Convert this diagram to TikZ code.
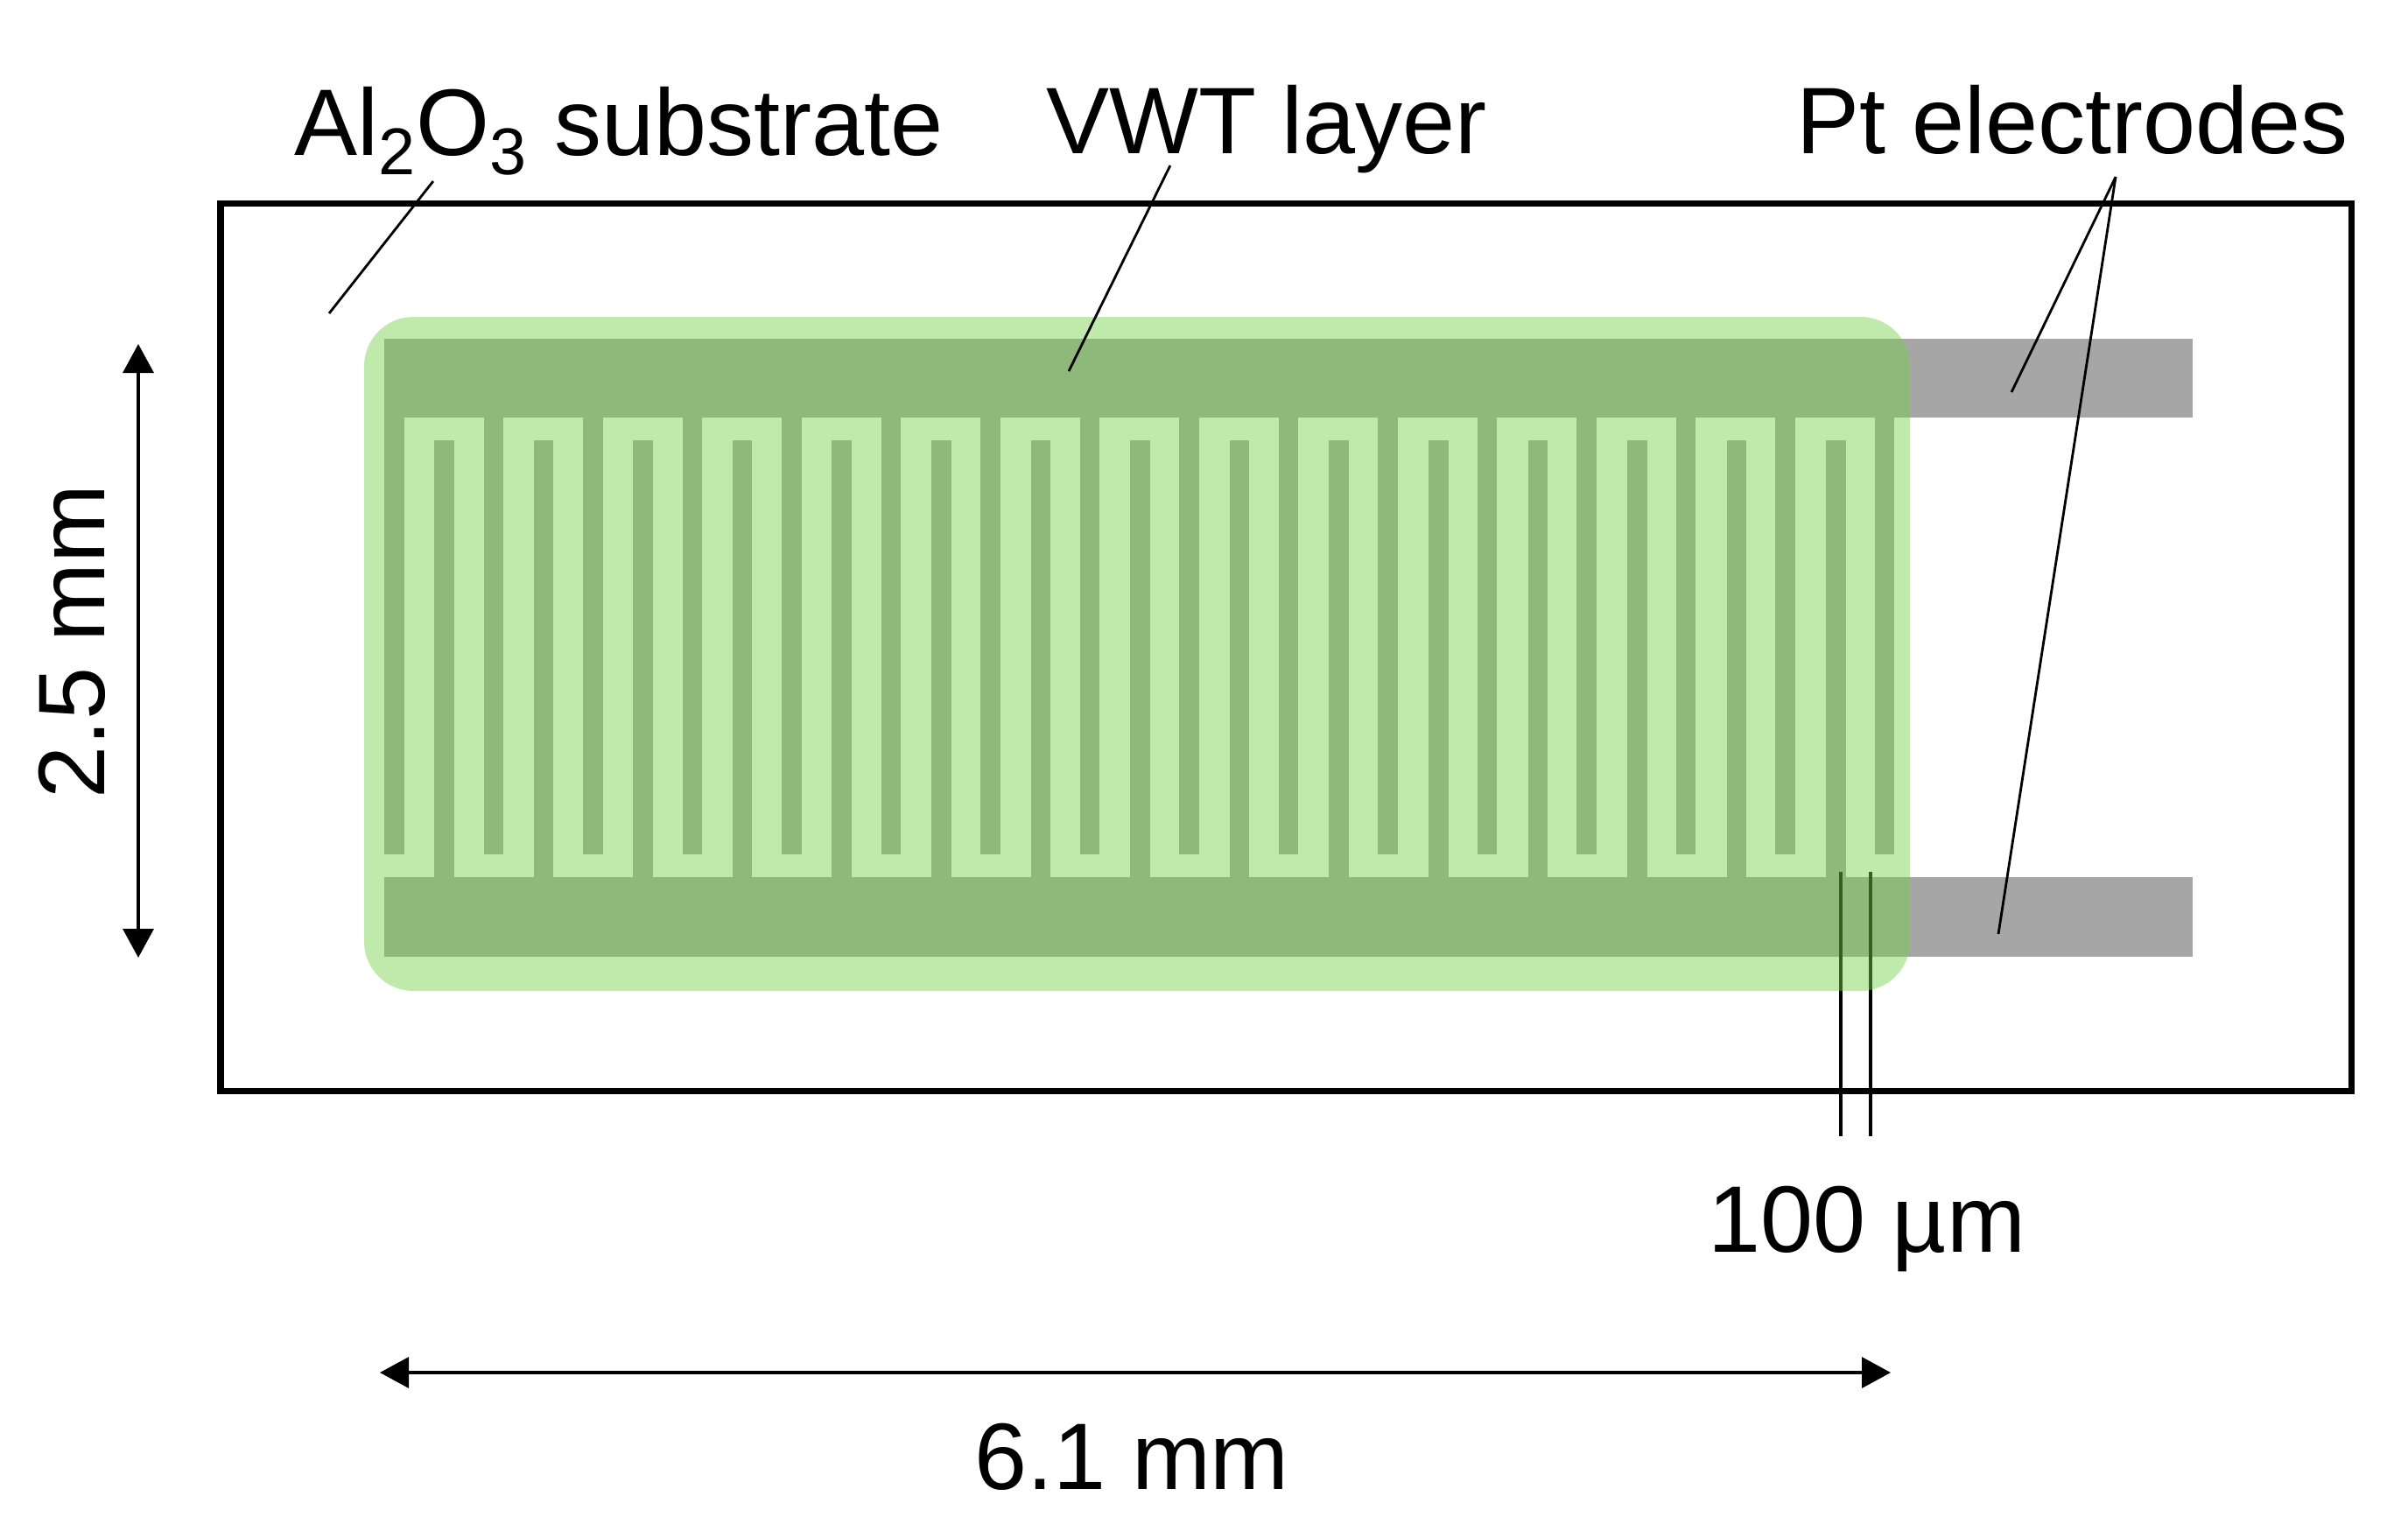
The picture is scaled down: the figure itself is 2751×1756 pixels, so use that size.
\documentclass[tikz,border=0pt]{standalone}
\usepackage{fontspec}
\setmainfont{Liberation Sans}
\usepackage{tikz}
\usetikzlibrary{arrows.meta}

\definecolor{layergreen}{RGB}{118,209,72}
\definecolor{ptgrey}{RGB}{166,166,166}

\begin{document}
\begin{tikzpicture}[x=0.01cm,y=-0.01cm,
    label/.style={inner sep=0pt,anchor=base,font=\fontsize{30.7}{36}\selectfont},
    leader/.style={line width=0.8pt},
    tick/.style={line width=0.9pt},
    dimline/.style={line width=1pt,{Triangle[length=0.33cm,width=0.35cm]}-{Triangle[length=0.33cm,width=0.35cm]}}]

            \useasboundingbox (0,0) rectangle (2751,1756);

            \draw[line width=2pt] (252,232) rectangle (2686,1246);

            \fill[ptgrey] (439,387) rectangle (2505,477);
            \fill[ptgrey] (439,1002) rectangle (2505,1093);

            \foreach \i in {0,...,15}
                \fill[ptgrey] ({439+113.5*\i},470) rectangle ({461.5+113.5*\i},976);
            \foreach \i in {0,...,14}
                \fill[ptgrey] ({496+113.6*\i},503) rectangle ({518.5+113.6*\i},1010);

            \coordinate (tickatop) at (2103,996);
            \coordinate (tickabot) at (2103,1298);
            \coordinate (tickbtop) at (2137,996);
            \coordinate (tickbbot) at (2137,1298);
            \draw[tick] (tickatop) -- (tickabot);
            \draw[tick] (tickbtop) -- (tickbbot);

            \fill[layergreen,fill opacity=0.46,rounded corners=16pt] (416,362) rectangle (2182,1132);

            \node[label] (alo) at (707,177) {Al\textsubscript{2}O\textsubscript{3} substrate};
            \node[label] (vwt) at (1447,175) {VWT layer};
            \node[label] (pt) at (2368,175) {Pt electrodes};
            \node[label] (width) at (2133,1430) {100 µm};
            \node[label] (length) at (1293,1701) {6.1 mm};
            \node[label,rotate=90] (height) at (120,733) {2.5 mm};

            \coordinate (aloend) at (376,358);
            \coordinate (vwtend) at (1221,424);
            \coordinate (ptupper) at (2298,448);
            \coordinate (ptlower) at (2283,1067);
            \draw[leader] ([xshift=-2.12cm,yshift=-0.30cm]alo.base) -- (aloend);
            \draw[leader] ([xshift=-1.10cm,yshift=-0.14cm]vwt.base) -- (vwtend);
            \draw[leader] ([xshift=0.49cm,yshift=-0.27cm]pt.base) -- (ptupper);
            \draw[leader] ([xshift=0.49cm,yshift=-0.27cm]pt.base) -- (ptlower);

            \coordinate (heighttop) at (158,393);
            \coordinate (heightbot) at (158,1094);
            \coordinate (lengthleft) at (434,1568);
            \coordinate (lengthright) at (2160,1568);
            \draw[dimline] (heighttop) -- (heightbot);
            \draw[dimline] (lengthleft) -- (lengthright);

\end{tikzpicture}
\end{document}
